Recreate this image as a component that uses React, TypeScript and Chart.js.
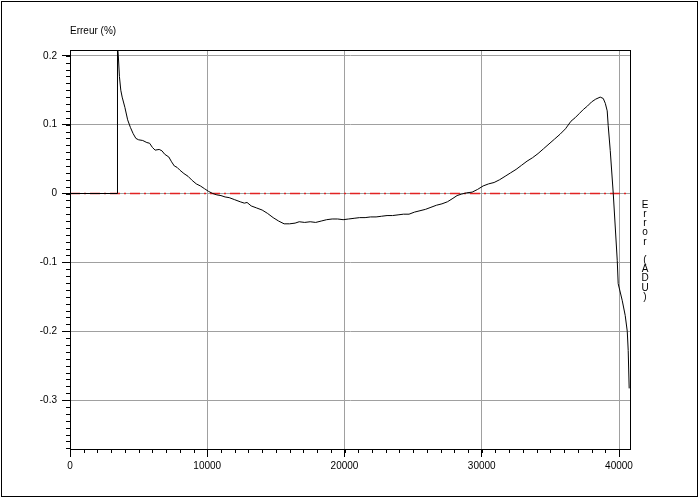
import React, { useEffect, useRef } from 'react';
import { Chart, registerables } from 'chart.js';

Chart.register(...registerables);

// ---- data ----
const errX = [
  0, 3450, 3460, 3520, 3600, 3700, 3800, 4000, 4200, 4400, 4600, 4800, 5000, 5300, 5600, 5800,
  6000, 6200, 6500, 6700, 6900, 7200, 7400, 7600, 7800, 8000, 8300, 8600, 8900, 9200, 9500, 9800,
  10100, 10400, 10700, 11000, 11300, 11600, 12000, 12400, 12700, 12900, 13200, 13600, 14000, 14400,
  14800, 15200, 15600, 16000, 16400, 16700, 17100, 17500, 17900, 18300, 18700, 19100, 19500, 19900,
  20300, 20700, 21100, 21500, 21900, 22300, 22700, 23100, 23500, 23900, 24300, 24700, 25100, 25500,
  25900, 26300, 26700, 27100, 27500, 27900, 28200, 28500, 28900, 29300, 29700, 30100, 30500, 30900,
  31300, 31700, 32100, 32500, 32900, 33300, 33700, 34100, 34500, 34900, 35300, 35700, 36100, 36500,
  36800, 37100, 37400, 37700, 38000, 38300, 38630, 38850, 39000, 39140, 39210, 39360, 39580, 39870,
  39940, 40230, 40450, 40600, 40670, 40740,
];
const errY = [
  0, 0, 0.215, 0.2, 0.17, 0.15, 0.14, 0.125, 0.107, 0.096, 0.087, 0.08, 0.078, 0.077, 0.074, 0.073,
  0.067, 0.063, 0.064, 0.062, 0.057, 0.053, 0.046, 0.04, 0.038, 0.034, 0.029, 0.025, 0.019, 0.014, 0.011, 0.007,
  0.003, 0.0, -0.002, -0.003, -0.005, -0.006, -0.009, -0.012, -0.014, -0.013, -0.018, -0.021, -0.024, -0.029,
  -0.035, -0.04, -0.044, -0.044, -0.043, -0.041, -0.042, -0.041, -0.042, -0.04, -0.038, -0.037, -0.037, -0.038,
  -0.037, -0.036, -0.035, -0.035, -0.034, -0.034, -0.033, -0.032, -0.032, -0.031, -0.03, -0.03, -0.027, -0.025,
  -0.023, -0.02, -0.017, -0.015, -0.012, -0.007, -0.003, -0.001, 0.001, 0.002, 0.006, 0.011, 0.014, 0.016,
  0.02, 0.025, 0.03, 0.035, 0.041, 0.047, 0.052, 0.058, 0.065, 0.072, 0.079, 0.086, 0.094, 0.105,
  0.11, 0.116, 0.122, 0.127, 0.133, 0.137, 0.14, 0.138, 0.131, 0.12, 0.099, 0.0625, 0.0, -0.097,
  -0.131, -0.155, -0.177, -0.2, -0.228, -0.283,
];
const zeroX = [0, 40800];
const zeroY = [0, 0];

const xMin = 0;
const xMax = 40800;
const yMin = -0.371;
const yMax = 0.2084;
const xMajorTicks = [0, 10000, 20000, 30000, 40000];
const xTickLabels = ['0', '10000', '20000', '30000', '40000'];
const yMajorTicks = [0.2, 0.1, 0, -0.1, -0.2, -0.3];
const yTickLabels = ['0.2', '0.1', '0', '-0.1', '-0.2', '-0.3'];
const xMinorStep = 1000;
const yMinorHundredths = { from: -37, to: 20 };
const leftTitle = 'Erreur (%)';
const rightTitle = 'Error (ADU)';

const FONT = '"Liberation Sans", Arial, sans-serif';

const decor = {
  id: 'decor',
  afterDraw(chart: any) {
    const { ctx, chartArea: a, scales } = chart;
    const xs = scales.x;
    const ys = scales.y;
    ctx.save();
    ctx.strokeStyle = '#000';
    ctx.lineWidth = 1;
    ctx.beginPath();
    for (let v = xMin; v <= xMax; v += xMinorStep) {
      const px = Math.round(xs.getPixelForValue(v)) + 0.5;
      ctx.moveTo(px, a.bottom);
      ctx.lineTo(px, a.bottom + 4);
    }
    for (let i = yMinorHundredths.from; i <= yMinorHundredths.to; i++) {
      const py = Math.round(ys.getPixelForValue(i / 100)) + 0.5;
      ctx.moveTo(a.left - 4, py);
      ctx.lineTo(a.left, py);
    }
    ctx.stroke();
    ctx.strokeRect(
      Math.round(a.left) + 0.5,
      Math.round(a.top) + 0.5,
      Math.round(a.right - a.left),
      Math.round(a.bottom - a.top)
    );
    ctx.strokeRect(1.5, 1.5, 696, 495);
    ctx.fillStyle = '#000';
    ctx.font = '10px ' + FONT;
    ctx.textBaseline = 'middle';
    ctx.textAlign = 'left';
    ctx.fillText(leftTitle, 70, 31);
    ctx.textAlign = 'center';
    Array.from(rightTitle).forEach((c, i) => {
      ctx.fillText(c, 645, 205 + i * 9.2);
    });
    ctx.restore();
  },
};

export default function App() {
  const ref = useRef<HTMLCanvasElement | null>(null);
  useEffect(() => {
    if (!ref.current) return;
    const chart = new Chart(ref.current, {
      type: 'line',
      data: {
        datasets: [
          {
            data: errX.map((x, i) => ({ x, y: errY[i] })),
            borderColor: '#000',
            borderWidth: 1,
            pointRadius: 0,
            tension: 0,
            fill: false,
          },
          {
            data: zeroX.map((x, i) => ({ x, y: zeroY[i] })),
            borderColor: 'rgb(225,35,35)',
            borderWidth: 1.5,
            borderDash: [10, 4, 2, 4],
            pointRadius: 0,
            fill: false,
          },
        ],
      },
      options: {
        animation: false,
        responsive: false,
        devicePixelRatio: 1,
        layout: { padding: { top: 50, right: 70, left: 0, bottom: 0 } },
        plugins: { legend: { display: false }, tooltip: { enabled: false } },
        scales: {
          x: {
            type: 'linear',
            min: xMin,
            max: xMax,
            afterBuildTicks: (s: any) => {
              s.ticks = xMajorTicks.map((v) => ({ value: v }));
            },
            afterFit: (s: any) => {
              s.height = 51;
            },
            ticks: {
              color: '#000',
              font: { family: FONT, size: 10 },
              padding: 3,
              maxRotation: 0,
              autoSkip: false,
              callback: (v: any) => {
                const i = xMajorTicks.indexOf(Number(v));
                return i >= 0 ? xTickLabels[i] : '';
              },
            },
            grid: { color: '#a0a0a0', tickColor: '#000', tickLength: 8, drawTicks: true },
            border: { color: '#000' },
          },
          y: {
            type: 'linear',
            min: yMin,
            max: yMax,
            afterBuildTicks: (s: any) => {
              s.ticks = yMajorTicks.map((v) => ({ value: v }));
            },
            afterFit: (s: any) => {
              s.width = 70;
            },
            ticks: {
              color: '#000',
              font: { family: FONT, size: 10 },
              padding: 5,
              autoSkip: false,
              callback: (v: any) => {
                const i = yMajorTicks.findIndex((t) => Math.abs(t - Number(v)) < 1e-9);
                return i >= 0 ? yTickLabels[i] : '';
              },
            },
            grid: { color: '#a0a0a0', tickColor: '#000', tickLength: 8, drawTicks: true },
            border: { color: '#000' },
          },
        },
      },
      plugins: [decor],
    });
    return () => chart.destroy();
  }, []);
  return (
    <div style={{ position: 'fixed', left: 0, top: 0, width: 700, height: 500, background: '#fff' }}>
      <canvas ref={ref} width={700} height={500} style={{ width: 700, height: 500 }} />
    </div>
  );
}
